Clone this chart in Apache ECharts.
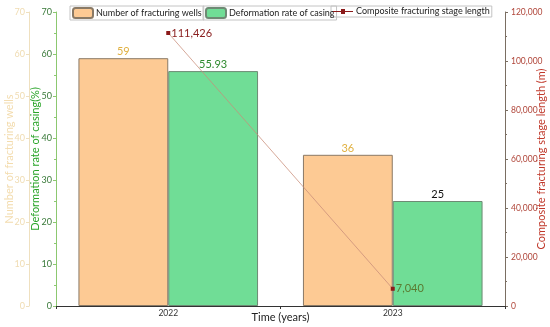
<!DOCTYPE html>
<html><head><meta charset="utf-8">
<script src="https://cdn.jsdelivr.net/npm/echarts@6/dist/echarts.min.js"></script>
<style>html,body{margin:0;padding:0;background:#fff}#c{width:550px;height:327px}</style>
</head><body><div id="c"></div>
<script>
var categories = ['2022', '2023'];
var wells = [59, 36];
var deformation = [55.93, 25];
var stageLength = [111426, 7040];
var leftTicks = [0, 10, 20, 30, 40, 50, 60, 70];
var rightTicks = [0, 20000, 40000, 60000, 80000, 100000, 120000];

var FONT = 'Lato';
var chart = echarts.init(document.getElementById('c'));
var legendBase = {top: 6, itemWidth: 20, itemHeight: 10, itemGap: 0, padding: [1, 2, 1, 2],
  borderColor: '#c4c4c4', borderWidth: 1, borderRadius: 0,
  textStyle: {fontFamily: FONT, fontSize: 9, color: '#222', padding: [0, 0, 0, -2]}};
chart.setOption({
  animation: false,
  textStyle: {fontFamily: FONT},
  legend: [
    Object.assign({}, legendBase, {left: 70, data: ['Number of fracturing wells']}),
    Object.assign({}, legendBase, {left: 203, data: ['Deformation rate of casing']}),
    Object.assign({}, legendBase, {left: 331, data: [{name: 'Composite fracturing stage length', icon: 'path://M0,5L8,5L8,3L12,3L12,5L20,5L20,6L12,6L12,8L8,8L8,6L0,6Z'}]})
  ],
  grid: {left: 56, right: 45, top: 12, bottom: 21, outerBoundsMode: 'none', containLabel: false},
  xAxis: {
    type: 'category', data: categories,
    name: 'Time (years)', nameLocation: 'middle', nameGap: 6, nameMoveOverlap: false,
    nameTextStyle: {fontFamily: FONT, fontSize: 11, color: '#222'},
    axisLine: {lineStyle: {color: '#333', width: 1}},
    axisTick: {show: true, length: 3, lineStyle: {color: '#333'}},
    axisLabel: {fontSize: 8.5, color: '#333', margin: 3}
  },
  yAxis: [
    {
      type: 'value', min: 0, max: 70, interval: 10, position: 'left', offset: 27,
      name: 'Number of fracturing wells', nameLocation: 'middle', nameGap: 14, nameMoveOverlap: false,
      nameTextStyle: {fontFamily: FONT, fontSize: 11, color: '#f3dcae'},
      axisLine: {show: true, lineStyle: {color: '#efe0bf'}},
      axisTick: {show: true, length: 3, lineStyle: {color: '#efe0bf'}},
      minorTick: {show: false},
      axisLabel: {fontSize: 9, color: '#f0dcb2', margin: 4},
      splitLine: {show: false}
    },
    {
      type: 'value', min: 0, max: 70, interval: 10, position: 'left', offset: 0,
      name: 'Deformation rate of casing(%)', nameLocation: 'middle', nameGap: 15, nameMoveOverlap: false,
      nameTextStyle: {fontFamily: FONT, fontSize: 11, color: '#2aa52a'},
      axisLine: {show: true, lineStyle: {color: '#8cc870'}},
      axisTick: {show: true, length: 3, lineStyle: {color: '#8cc870'}},
      minorTick: {show: true, splitNumber: 2, length: 2, lineStyle: {color: '#8cc870'}},
      axisLabel: {fontSize: 9, color: '#3a7a3a', margin: 4},
      splitLine: {show: false}
    },
    {
      type: 'value', min: 0, max: 120000, interval: 20000, position: 'right',
      name: 'Composite fracturing stage length (m)', nameLocation: 'middle', nameGap: 31, nameMoveOverlap: false,
      nameRotate: 90,
      nameTextStyle: {fontFamily: FONT, fontSize: 11, color: '#c0392b'},
      axisLine: {show: true, lineStyle: {color: '#7a6e62'}},
      axisTick: {show: true, length: 3, lineStyle: {color: '#7a6e62'}},
      minorTick: {show: true, splitNumber: 2, length: 2, lineStyle: {color: '#7a6e62'}},
      axisLabel: {fontSize: 8.5, color: '#b0463a', margin: 6,
        formatter: function (v) { return v.toLocaleString('en-US'); }},
      splitLine: {show: false}
    }
  ],
  series: [
    {
      name: 'Number of fracturing wells', type: 'bar', yAxisIndex: 0, data: wells,
      barWidth: '40%', barGap: '0%',
      itemStyle: {color: '#fdca94', borderColor: '#8a7a66', borderWidth: 1},
      label: {show: true, position: 'top', distance: 1, fontSize: 11, color: '#e0b040'}
    },
    {
      name: 'Deformation rate of casing', type: 'bar', yAxisIndex: 1,
      data: [{value: deformation[0], label: {color: '#2e8a2e'}}, {value: deformation[1], label: {color: '#111'}}],
      barWidth: '40%', barGap: '0%',
      itemStyle: {color: '#70dd96', borderColor: '#6e8a74', borderWidth: 1},
      label: {show: true, position: 'top', distance: 1, fontSize: 11}
    },
    {
      name: 'Composite fracturing stage length', type: 'line', yAxisIndex: 2,
      data: [{value: stageLength[0], label: {color: '#8b2020'}}, {value: stageLength[1], label: {color: '#5a7a30'}}],
      symbol: 'rect', symbolSize: 4,
      itemStyle: {color: '#8b1a1a'},
      lineStyle: {color: 'rgba(200,140,120,0.75)', width: 1},
      label: {show: true, position: 'right', distance: 1, fontSize: 11,
        formatter: function (p) { return p.value.toLocaleString('en-US'); }}
    }
  ]
});
</script>
</body></html>
